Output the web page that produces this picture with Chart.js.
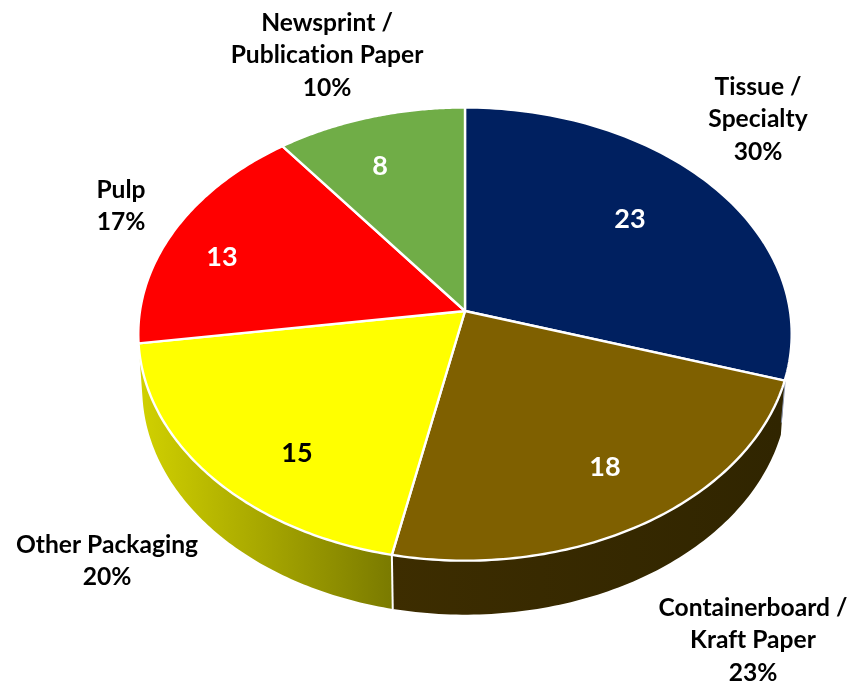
<!DOCTYPE html>
<html lang="en">
<head>
    <meta charset="UTF-8">
    <title>Paper Grades</title>
    <script src="https://cdn.jsdelivr.net/npm/chart.js"></script>
    <style>
        html, body { margin: 0; padding: 0; background: white; }
        #chartBox { width: 850px; height: 683px; }
    </style>
</head>
<body>
<div id="chartBox"><canvas id="myChart" width="850" height="683"></canvas></div>
<script>
    // data
    const categories = [['Tissue /', 'Specialty'], ['Containerboard /', 'Kraft Paper'], ['Other Packaging'], ['Pulp'], ['Newsprint /', 'Publication Paper']];
    const values = [23, 18, 15, 13, 8];
    const shares = ['30%', '23%', '20%', '17%', '10%'];

    // styles
    const sliceColors = ['#002060', '#7f6000', '#ffff00', '#ff0000', '#70ad47'];
    const valueColors = ['#ffffff', '#ffffff', '#000000', '#ffffff', '#ffffff'];
    // wall gradients, left colour then right colour (only the walls that show)
    const wallColors = [null, ['#3d2d00', '#302500'], ['#d0d000', '#7a7a00'], null, null];

    // layout of the text (centre x, first line y)
    const labelSpots = [[758, 87], [753, 608], [107, 545], [121, 190], [327, 23]];
    const valueSpots = [[630, 219], [605, 467], [297, 453], [222, 257], [380, 166]];
    const lineGap = 32.5;

    // the tilted disc: perspective k, squash of the radius, wall depth
    const tilt = { k: 0.1018, squash: 0.69, depth: 54, shrink: 0.988 };

    function project(el, angle, low) {
        const X = Math.cos(angle), Y = Math.sin(angle);
        const w = 1 - tilt.k * Y;
        const rx = el.outerRadius * (low ? tilt.shrink : 1);
        const ry = el.outerRadius * tilt.squash;
        return { x: el.x + rx * X / w, y: el.y + (low ? tilt.depth : 0) + ry * Y / w };
    }

    function traceRim(ctx, el, from, to, low) {
        const steps = 90;
        for (let i = 0; i <= steps; i++) {
            const p = project(el, from + (to - from) * i / steps, low);
            ctx.lineTo(p.x, p.y);
        }
    }

    const tiltedPie = {
        id: 'tiltedPie',
        beforeDatasetDraw(chart) {
            const ctx = chart.ctx;
            const arcs = chart.getDatasetMeta(0).data;
            ctx.save();
            ctx.lineJoin = 'round';

            // walls first, the top faces cover what is left over
            arcs.forEach((el, i) => {
                if (!wallColors[i]) return;
                const a = project(el, el.endAngle, true), b = project(el, el.startAngle, true);
                const grad = ctx.createLinearGradient(Math.min(a.x, b.x), 0, Math.max(a.x, b.x), 0);
                grad.addColorStop(0, wallColors[i][0]);
                grad.addColorStop(1, wallColors[i][1]);
                ctx.beginPath();
                traceRim(ctx, el, el.startAngle, el.endAngle, false);
                traceRim(ctx, el, el.endAngle, el.startAngle, true);
                ctx.closePath();
                ctx.fillStyle = grad;
                ctx.fill();
            });

            // white edge between the two walls
            const seam = arcs[1];
            const s1 = project(seam, seam.endAngle, false), s2 = project(seam, seam.endAngle, true);
            ctx.beginPath();
            ctx.moveTo(s1.x, s1.y);
            ctx.lineTo(s2.x, s2.y);
            ctx.strokeStyle = 'white';
            ctx.lineWidth = 2;
            ctx.stroke();

            // thin edge on the right where the blue slice ends
            const e1 = project(seam, seam.startAngle, false), e2 = project(seam, seam.startAngle, true);
            ctx.beginPath();
            ctx.moveTo(e1.x + 0.5, e1.y);
            ctx.lineTo(e2.x + 0.5, e2.y - 12);
            ctx.strokeStyle = '#8a94ad';
            ctx.lineWidth = 1;
            ctx.stroke();

            // top faces
            arcs.forEach((el, i) => {
                ctx.beginPath();
                ctx.moveTo(el.x, el.y);
                traceRim(ctx, el, el.startAngle, el.endAngle, false);
                ctx.closePath();
                ctx.fillStyle = sliceColors[i];
                ctx.fill();
                ctx.strokeStyle = 'white';
                ctx.lineWidth = 2.4;
                ctx.stroke();
            });

            ctx.restore();
            return false;
        },
        afterDraw(chart) {
            const ctx = chart.ctx;
            ctx.save();
            ctx.textAlign = 'center';
            ctx.textBaseline = 'middle';
            ctx.letterSpacing = '0.01px'; // stops the "ti" ligature in Lato

            ctx.font = 'bold 24.6px Lato, "Open Sans", sans-serif';
            ctx.fillStyle = '#000000';
            categories.forEach((lines, i) => {
                const [x, y] = labelSpots[i];
                lines.concat(shares[i]).forEach((line, n) => ctx.fillText(line, x, y + n * lineGap));
            });

            ctx.font = 'bold 27px Lato, "Open Sans", sans-serif';
            values.forEach((v, i) => {
                ctx.fillStyle = valueColors[i];
                ctx.fillText(String(v), valueSpots[i][0], valueSpots[i][1]);
            });
            ctx.restore();
        }
    };

    new Chart(document.getElementById('myChart'), {
        type: 'pie',
        data: {
            labels: categories.map(c => c.join(' ')),
            datasets: [{ data: values, backgroundColor: sliceColors, borderColor: 'white', borderWidth: 2 }]
        },
        options: {
            responsive: false,
            animation: false,
            radius: 325,
            layout: { padding: { left: 141, right: 61, top: 0, bottom: 61 } },
            plugins: { legend: { display: false }, tooltip: { enabled: false } }
        },
        plugins: [tiltedPie]
    });
</script>
</body>
</html>
